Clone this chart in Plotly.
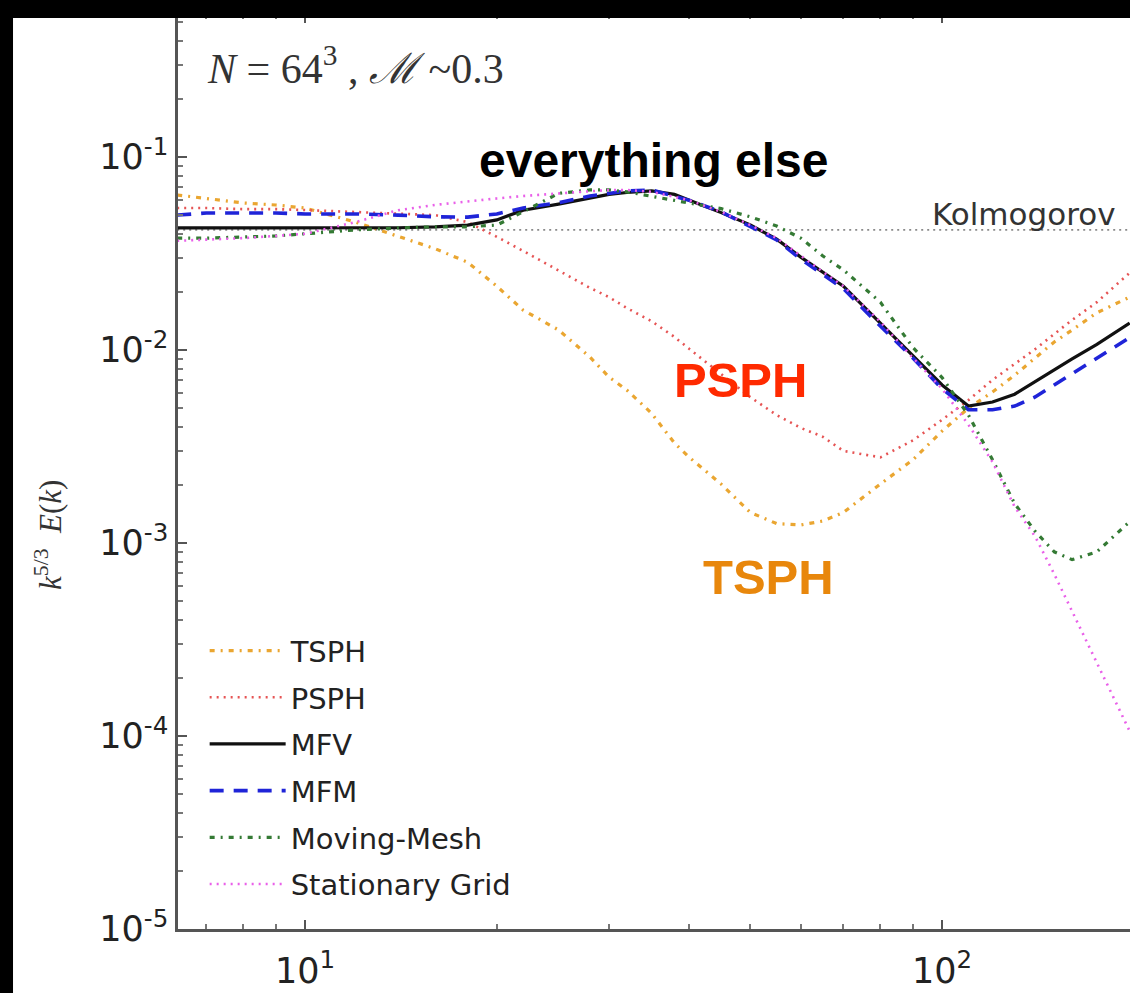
import plotly.graph_objects as go

# wavenumber k
k = [6.3, 7, 8, 9, 10, 12, 14, 16, 18, 20, 22, 25, 28, 30, 32, 35, 38, 40, 45, 50,
     55, 60, 65, 70, 80, 90, 100, 110, 120, 130, 140, 150, 160, 175, 197]

tsph = [0.0636, 0.061, 0.0578, 0.0564, 0.0544, 0.046, 0.039, 0.0335, 0.0285, 0.0214,
        0.0161, 0.0127, 0.0092, 0.00725, 0.0062, 0.0047, 0.0033, 0.0028, 0.00202, 0.00144,
        0.00126, 0.00124, 0.0013, 0.00144, 0.00202, 0.0027, 0.0038, 0.005, 0.00606, 0.0074,
        0.0091, 0.011, 0.0127, 0.0156, 0.0188]

psph = [0.0544, 0.0544, 0.0537, 0.0537, 0.0531, 0.052, 0.051, 0.050, 0.046, 0.0386,
        0.0326, 0.0257, 0.021, 0.0188, 0.0165, 0.0141, 0.0117, 0.0102, 0.0075, 0.0057,
        0.0046, 0.00395, 0.00355, 0.0030, 0.00278, 0.0034, 0.00435, 0.0055, 0.007, 0.0085,
        0.0101, 0.0121, 0.0143, 0.0177, 0.0251]

mfv = [0.0429, 0.0429, 0.043, 0.043, 0.043, 0.043, 0.043, 0.0435, 0.0444, 0.0472,
       0.053, 0.057, 0.0615, 0.064, 0.0655, 0.0668, 0.064, 0.060, 0.0515, 0.0445,
       0.0375, 0.0303, 0.0254, 0.0214, 0.0138, 0.0093, 0.00659, 0.00512, 0.00538, 0.0059,
       0.00683, 0.0079, 0.009, 0.0107, 0.0138]

mfm = [0.050, 0.0513, 0.0513, 0.0513, 0.0507, 0.0507, 0.050, 0.049, 0.0488, 0.0507,
       0.0544, 0.058, 0.0628, 0.0648, 0.0667, 0.0675, 0.0628, 0.0598, 0.052, 0.0437,
       0.0372, 0.0296, 0.0245, 0.0208, 0.0133, 0.0091, 0.0063, 0.0049, 0.0049, 0.00512,
       0.00571, 0.00659, 0.0075, 0.0091, 0.0116]

moving_mesh = [0.038, 0.038, 0.0385, 0.039, 0.040, 0.0419, 0.0429, 0.0435, 0.0435, 0.0444,
               0.052, 0.0648, 0.0675, 0.0675, 0.066, 0.0628, 0.0598, 0.0578, 0.054, 0.049,
               0.0439, 0.038, 0.0307, 0.026, 0.0177, 0.0103, 0.0072, 0.0046, 0.0027, 0.0016,
               0.00115, 0.0009, 0.00082, 0.0009, 0.00129]

stationary = [0.0368, 0.0372, 0.038, 0.039, 0.040, 0.046, 0.053, 0.0565, 0.059, 0.061,
              0.0628, 0.0648, 0.0667, 0.0675, 0.0675, 0.066, 0.0621, 0.0598, 0.052, 0.0444,
              0.038, 0.0307, 0.0254, 0.0214, 0.014, 0.0091, 0.0063, 0.0041, 0.00263, 0.00154,
              0.00108, 0.00069, 0.000444, 0.00024, 0.000106]

kolmogorov_level = 0.0419
k_span = [6.3, 197]

ytick_vals = [1e-5, 1e-4, 1e-3, 1e-2, 1e-1]
ytick_text = ["10<sup>-5</sup>", "10<sup>-4</sup>", "10<sup>-3</sup>", "10<sup>-2</sup>", "10<sup>-1</sup>"]
xtick_vals = [10, 100]
xtick_text = ["10<sup>1</sup>", "10<sup>2</sup>"]

series = [
    ("TSPH", tsph, dict(color="#eaa631", width=3.2, dash="5px,6px,2px,6px")),
    ("PSPH", psph, dict(color="#e65454", width=2.6, dash="2px,5px")),
    ("MFV", mfv, dict(color="#111111", width=3.2)),
    ("MFM", mfm, dict(color="#1f24d8", width=3.6, dash="14px,10px")),
    ("Moving-Mesh", moving_mesh, dict(color="#347a34", width=3.2, dash="5px,6px,2px,6px")),
    ("Stationary Grid", stationary, dict(color="#e960e9", width=2.6, dash="2px,5px")),
]

fig = go.Figure()
fig.add_trace(go.Scatter(x=k_span, y=[kolmogorov_level] * 2, mode="lines",
                         line=dict(color="#8a8a8a", width=1.8, dash="2px,4px"),
                         showlegend=False, hoverinfo="skip"))
for i, (name, vals, ln) in enumerate(series):
    fig.add_trace(go.Scatter(x=k, y=vals, mode="lines", name=name, line=ln,
                             legendgroup=f"g{i}"))

minor_x = [m * 10 ** e for e in (0, 1, 2) for m in range(2, 10)]
minor_y = [m * 10.0 ** e for e in (-5, -4, -3, -2, -1) for m in range(2, 10)]

axis_common = dict(showgrid=False, zeroline=False, showline=True, linecolor="#555555",
                   linewidth=2.5, ticks="inside", ticklen=9, tickwidth=1.5, tickcolor="#555555",
                   tickfont=dict(family="DejaVu Sans", size=35, color="#222222"))

fig.update_xaxes(type="log", range=[0.8006, 2.295], tickmode="array", tickvals=xtick_vals,
                 ticktext=xtick_text, mirror="ticks", ticklabelstandoff=9,
                 minor=dict(ticks="inside", ticklen=5, tickcolor="#777777", tickvals=minor_x),
                 **axis_common)
fig.update_yaxes(type="log", range=[-5, -0.259], tickmode="array", tickvals=ytick_vals,
                 ticktext=ytick_text, mirror=False,
                 minor=dict(ticks="inside", ticklen=5, tickcolor="#777777", tickvals=minor_y),
                 **axis_common)

annotations = [
    dict(text="<b>everything else</b>", x=0.5, y=0.8404, xref="paper", yref="paper",
         xanchor="center", yanchor="middle",
         showarrow=False, font=dict(family="Liberation Sans", size=48, color="#000000")),
    dict(text="<b>PSPH</b>", x=0.591, y=0.6, xref="paper", yref="paper",
         xanchor="center", yanchor="middle",
         showarrow=False, font=dict(family="Liberation Sans", size=49, color="#ff2a00")),
    dict(text="<b>TSPH</b>", x=0.620, y=0.385, xref="paper", yref="paper",
         xanchor="center", yanchor="middle",
         showarrow=False, font=dict(family="Liberation Sans", size=49, color="#e8870c")),
    dict(text="Kolmogorov", x=0.987, y=0.781, xref="paper", yref="paper",
         xanchor="right", yanchor="middle",
         showarrow=False, font=dict(family="DejaVu Sans", size=31, color="#333333")),
    dict(text="<i>N</i> = 64<sup>3</sup> , <i>ℳ</i> ~0.3", x=0.0284, y=0.944,
         xref="paper", yref="paper", xanchor="left", yanchor="middle", showarrow=False,
         font=dict(family="Liberation Serif", size=42, color="#333333")),
    dict(text="<i>k</i><sup>5/3</sup>  <i>E</i>(<i>k</i>)", x=-0.1366, y=0.4306,
         xref="paper", yref="paper", xanchor="center", yanchor="middle",
         textangle=-90, showarrow=False,
         font=dict(family="Liberation Serif", size=31, color="#333333")),
]

shapes = [
    dict(type="rect", xref="paper", yref="paper", x0=-0.19, x1=1.01, y0=0.9956, y1=1.02,
         fillcolor="black", line=dict(width=0), layer="above"),
    dict(type="rect", xref="paper", yref="paper", x0=-0.19, x1=-0.1733, y0=-0.08, y1=1.02,
         fillcolor="black", line=dict(width=0), layer="above"),
]

fig.update_layout(
    width=1130, height=993,
    margin=dict(l=178, r=0, t=14, b=64),
    paper_bgcolor="white", plot_bgcolor="white",
    annotations=annotations, shapes=shapes,
    legend=dict(x=0.028, y=0.332, xanchor="left", yanchor="top", bgcolor="rgba(0,0,0,0)",
                font=dict(family="DejaVu Sans", size=29, color="#222222"),
                itemwidth=76, tracegroupgap=6),
    showlegend=True,
)

fig.write_html("out.html")
